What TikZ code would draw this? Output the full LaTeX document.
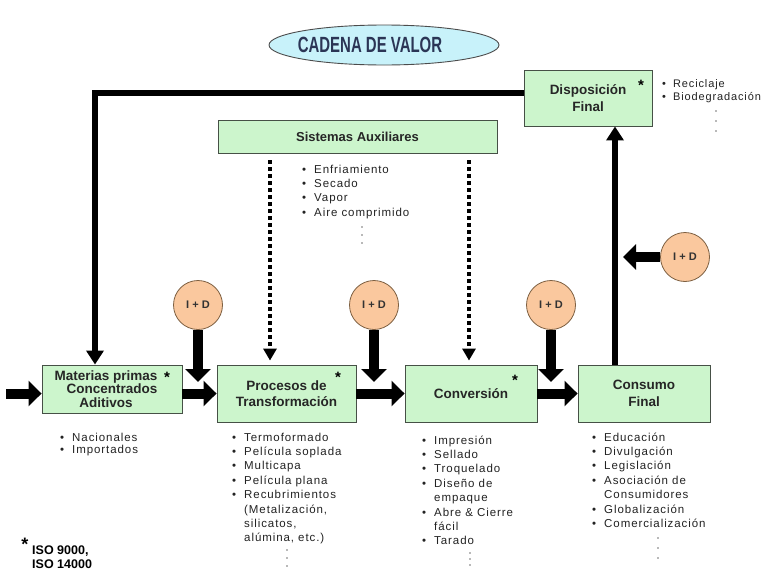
\documentclass[tikz,border=0pt]{standalone}
\usepackage{fontspec}
\setmainfont{Liberation Sans}
\usetikzlibrary{arrows.meta,shapes.geometric}
\definecolor{boxgreen}{RGB}{204,245,204}
\definecolor{boxline}{RGB}{70,80,70}
\definecolor{peach}{RGB}{250,200,158}
\definecolor{peachline}{RGB}{125,95,65}
\definecolor{ellfill}{RGB}{200,242,250}
\definecolor{titlecol}{RGB}{43,53,85}
\definecolor{listcol}{RGB}{35,35,35}
\newcommand{\listfont}{\fontsize{11.5}{14.4}\selectfont\addfontfeature{LetterSpace=8}}
\begin{document}
\begin{tikzpicture}[x=1pt,y=-1pt,
  stagebox/.style={draw=boxline, line width=0.9pt, fill=boxgreen, align=center,
    font=\fontsize{13.5}{16.5}\selectfont\bfseries, text=black!85, inner sep=0pt},
  idcircle/.style={circle, draw=peachline, line width=0.8pt, fill=peach, minimum size=49pt,
    inner sep=0pt, font=\fontsize{11}{11}\selectfont\bfseries, text=black!80},
  star/.style={font=\fontsize{15}{15}\selectfont\bfseries, inner sep=0pt},
  listnode/.style={anchor=base west, inner sep=0pt, text=listcol},
  fatarrow/.style={line width=10pt, -{Triangle[width=25pt,length=13pt]}},
  thickarrow/.style={line width=5.5pt, -{Triangle[width=17pt,length=14pt]}},
  dotarrow/.style={line width=4pt, dash pattern=on 4pt off 3pt, -{Triangle[width=13pt,length=12pt]}},
  listdot/.style={fill=black!55}]
\useasboundingbox (0,0) rectangle (771,573);
\fill[white] (0,0) rectangle (771,573);

% title
\node[ellipse, draw=black!70, line width=0.9pt, fill=ellfill, minimum width=230pt, minimum height=40pt] (title) at (384,45) {};
\node[text=titlecol, inner sep=0pt] (titletext) at (370,45) {\fontsize{22}{22}\selectfont\bfseries\scalebox{0.68}[1]{CADENA DE VALOR}};

% boxes
\node[stagebox, minimum width=128pt, minimum height=56pt] (disp) at (588,98) {Disposición\\Final};
\node[stagebox, minimum width=279pt, minimum height=33pt, font=\fontsize{13}{15}\selectfont\bfseries] (aux) at (357.5,136.5) {Sistemas Auxiliares};
\node[stagebox, minimum width=140pt, minimum height=48pt, font=\fontsize{13.5}{13.5}\selectfont\bfseries] (mat) at (112,389) {Materias primas\hspace*{12pt}\\Concentrados\hspace*{12pt}\\Aditivos\hspace*{12pt}};
\node[stagebox, minimum width=139pt, minimum height=57pt] (proc) at (286.5,393.5) {Procesos de\\Transformación};
\node[stagebox, minimum width=132pt, minimum height=57pt] (conv) at (471,393.5) {Conversión};
\node[stagebox, minimum width=132pt, minimum height=57pt] (cons) at (644,393.5) {Consumo\\Final};

% asterisks
\node[star] (s1) at (641,85) {*};
\node[star] (s2) at (167,377) {*};
\node[star] (s3) at (338,377) {*};
\node[star] (s4) at (515,380) {*};

% I+D circles
\node[idcircle] (id1) at (198,305) {I + D};
\node[idcircle] (id2) at (374,305) {I + D};
\node[idcircle] (id3) at (551,305) {I + D};
\node[idcircle] (id4) at (685,257) {I + D};

% coordinates
\coordinate (in) at (6,393.5);
\coordinate (tip) at (0,382);
\coordinate (t4) at (623,257);
\coordinate (fb) at (95,93);
\coordinate (up) at (615,0);
\coordinate (d1) at (270,160);
\coordinate (d2) at (469,160);

% flow arrows
\draw[fatarrow] (in) -- (mat.west |- in);
\draw[fatarrow] (mat.east |- proc.west) -- (proc.west);
\draw[fatarrow] (proc.east) -- (conv.west);
\draw[fatarrow] (conv.east) -- (cons.west);
\draw[fatarrow] (id1.south) -- (id1.south |- tip);
\draw[fatarrow] (id2.south) -- (id2.south |- tip);
\draw[fatarrow] (id3.south) -- (id3.south |- tip);
\draw[fatarrow] (id4.west) -- (t4);

% feedback lines
\draw[thickarrow] (disp.west |- fb) -- (fb) -- (fb |- mat.north);
\draw[thickarrow] (up |- cons.north) -- (up |- disp.south);

% auxiliary dotted arrows
\draw[dotarrow, shorten >=4pt] (d1) -- (d1 |- proc.north);
\draw[dotarrow, shorten >=4pt] (d2) -- (d2 |- conv.north);

% lists
\node[listnode] (lisdisp) at (662,87) {\listfont\fontsize{11}{13}\selectfont
  \begin{tabular}[t]{@{}l@{\hspace{7pt}}l@{}}•&Reciclaje\\•&Biodegradación\end{tabular}};
\node[listnode] (lisaux) at (302,173) {\listfont
  \begin{tabular}[t]{@{}l@{\hspace{8pt}}l@{}}•&Enfriamiento\\•&Secado\\•&Vapor\\•&Aire comprimido\end{tabular}};
\node[listnode] (lismat) at (60,441) {\listfont\fontsize{11.5}{12}\selectfont
  \begin{tabular}[t]{@{}l@{\hspace{8pt}}l@{}}•&Nacionales\\•&Importados\end{tabular}};
\node[listnode] (lisproc) at (232,441) {\listfont
  \begin{tabular}[t]{@{}l@{\hspace{8pt}}l@{}}•&Termoformado\\•&Película soplada\\•&Multicapa\\•&Película plana\\•&Recubrimientos\\&(Metalización,\\&silicatos,\\&alúmina, etc.)\end{tabular}};
\node[listnode] (lisconv) at (422,444) {\listfont
  \begin{tabular}[t]{@{}l@{\hspace{8pt}}l@{}}•&Impresión\\•&Sellado\\•&Troquelado\\•&Diseño de\\&empaque\\•&Abre \& Cierre\\&fácil\\•&Tarado\end{tabular}};
\node[listnode] (liscons) at (592,441) {\listfont
  \begin{tabular}[t]{@{}l@{\hspace{8pt}}l@{}}•&Educación\\•&Divulgación\\•&Legislación\\•&Asociación de\\&Consumidores\\•&Globalización\\•&Comercialización\end{tabular}};

% continuation dots
\foreach \x/\y in {362/227, 362/235, 362/243, 716/111, 716/121, 716/131,
  287/550, 287/558, 287/566, 470/553, 470/559, 470/565, 658/538, 658/548, 658/558}
  \fill[listdot] (\x,\y) circle (0.9pt);

% ISO note
\node[star, anchor=center, font=\fontsize{18}{18}\selectfont\bfseries] (isostar) at (25,544) {*};
\node[anchor=north west, inner sep=0pt, align=left, font=\fontsize{12.5}{13.5}\selectfont\bfseries] (iso) at (32,546) {ISO 9000,\\ISO 14000};
\end{tikzpicture}
\end{document}
